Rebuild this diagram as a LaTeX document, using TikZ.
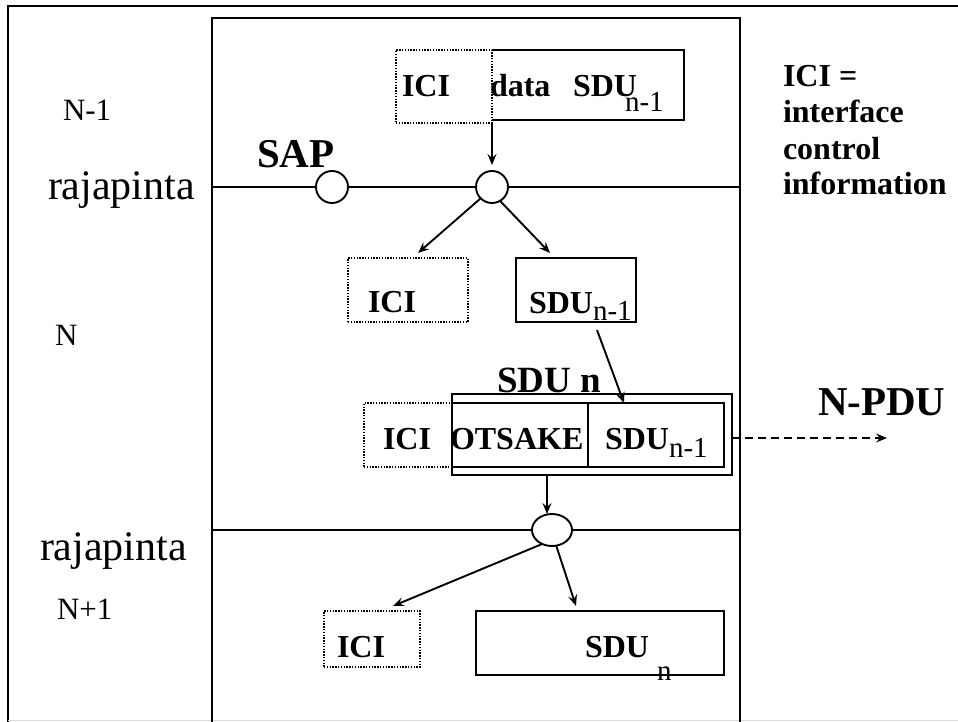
\documentclass[tikz,border=0pt]{standalone}
\usepackage{fontspec}
\setmainfont{Liberation Serif}
\usetikzlibrary{arrows.meta,shapes.geometric,calc}
\newcommand\fsraja{\fontsize{42pt}{48pt}\selectfont}
\newcommand\fsnum{\fontsize{31pt}{36pt}\selectfont}
\newcommand\fssap{\fontsize{41pt}{48pt}\selectfont\bfseries}
\newcommand\fsbox{\fontsize{32pt}{36pt}\selectfont\bfseries}
\newcommand\fssub{\fontsize{29pt}{34pt}\selectfont\mdseries}
\newcommand\fssdun{\fontsize{37pt}{44pt}\selectfont\bfseries}
\begin{document}
\begin{tikzpicture}[x=1pt,y=-1pt, line width=1.9pt,
  every node/.style={inner sep=0pt, outer sep=0pt},
  lbl/.style={anchor=base west},
  box/.style={draw, anchor=north west},
  dbox/.style={draw, anchor=north west, dash pattern=on 1.4pt off 1.4pt},
  arr/.style={-{Stealth[length=11pt,width=9pt,inset=4pt]}},
  sap/.style={draw, circle, minimum size=32pt},
]
\useasboundingbox (0,0) rectangle (958,722);
% outer frame
\draw (8,722) -- (8,6) -- (958,6);
\draw[black!15, line width=1pt] (8,720) -- (958,720);
% layer box
\draw (212,722) -- (212,18) -- (740,18) -- (740,722);

% interfaces
\coordinate (ifAw) at (212,187);
\coordinate (ifAe) at (740,187);
\node[sap] (c1) at (332,187) {};
\node[sap] (c2) at (492,187) {};
\draw (ifAw) -- (c1) -- (c2) -- (ifAe);
\coordinate (ifBw) at (212,530);
\coordinate (ifBe) at (740,530);
\node[draw, ellipse, minimum width=40pt, minimum height=32pt] (e) at (552,530) {};
\draw (ifBw) -- (e) -- (ifBe);

% top boxes
\node[anchor=north west, minimum width=192pt, minimum height=70pt] (data1) at (492,50) {};
\draw (data1.north west) -- (data1.north east) -- (data1.south east) -- (data1.south west);
\node[dbox, minimum width=96pt, minimum height=73pt] (ici1) at (396,50) {};
\node[lbl, font=\fsbox] (t-ici1) at (402,97) {ICI};
\node[lbl, font=\fsbox] (t-data1) at (490,97) {data};
\node[lbl, font=\fsbox] (t-sdu1) at (573,97) {SDU\kern-12pt\raisebox{-15pt}{\fssub n-1}};

% middle boxes
\node[dbox, minimum width=120pt, minimum height=64pt] (ici2) at (348,258) {};
\node[box, minimum width=120pt, minimum height=64pt] (sdu2) at (516,258) {};
\node[lbl, font=\fsbox] (t-ici2) at (368,312) {ICI};
\node[lbl, font=\fsbox] (t-sdu2) at (529,313) {SDU\raisebox{-7pt}{\fssub n-1}};

% PDU row
\node[dbox, minimum width=88pt, minimum height=64pt] (ici3) at (364,403) {};
\node[box, minimum width=280pt, minimum height=81pt] (pduout) at (452,394) {};
\node[box, minimum width=136pt, minimum height=64pt] (hdr) at (452,403) {};
\node[box, minimum width=136pt, minimum height=64pt] (sdu3) at (588,403) {};
\node[lbl, font=\fssdun] (t-sdun) at (497,392) {SDU n};
\node[lbl, font=\fsbox] (t-ici3) at (383,449) {ICI};
\node[lbl, font=\fsbox] (t-hdr) at (450,449) {OTSAKE};
\node[lbl, font=\fsbox] (t-sdu3) at (605,449) {SDU\raisebox{-8pt}{\fssub n-1}};

% bottom boxes
\node[dbox, minimum width=96pt, minimum height=56pt] (ici4) at (324,611) {};
\node[box, minimum width=248pt, minimum height=64pt] (sdu4) at (476,611) {};
\node[lbl, font=\fsbox] (t-ici4) at (337,657) {ICI};
\node[lbl, font=\fsbox] (t-sdu4) at (585,657) {SDU\kern8pt\raisebox{-23pt}{\fssub n}};

% arrows
\draw[arr, shorten >=6pt] (ici1.south east) -- (ici1.south east |- c2.north);
\draw[arr] (c2.225) -- ([xshift=10pt,yshift=5pt]ici2.north);
\draw[arr] (c2.300) -- ([xshift=-26pt,yshift=5pt]sdu2.north);
\draw[arr] ([xshift=21pt,yshift=-8pt]sdu2.south) -- ([xshift=-32pt]sdu3.north);
\coordinate (eup) at ($(e.north)+(-5,0)$);
\draw[arr] (eup |- pduout.south) -- (eup);
\draw[arr] (e.235) -- ([xshift=21pt,yshift=5pt]ici4.north);
\draw[arr] (e.285) -- ([xshift=-24pt,yshift=5pt]sdu4.north);
\coordinate (pduend) at (887,438);
\draw[arr, dash pattern=on 8pt off 5pt] ([yshift=-3.5pt]pduout.east) -- (pduend);

% labels
\node[lbl, font=\fsnum] (t-n1) at (63,121) {N-1};
\node[lbl, font=\fsraja] (t-raja1) at (48,200) {rajapinta};
\node[lbl, font=\fssap] (t-sap) at (257,168) {SAP};
\node[lbl, font=\fsnum] (t-n) at (55,345) {N};
\node[lbl, font=\fsraja] (t-raja2) at (40,560) {rajapinta};
\node[lbl, font=\fsnum] (t-n3) at (57,619) {N+1};
\node[lbl, font=\fssap] (t-npdu) at (818,415) {N-PDU};
\node[lbl, font=\fsbox] (t-def1) at (783,87) {ICI =};
\node[lbl, font=\fsbox] (t-def2) at (783,123) {interface};
\node[lbl, font=\fsbox] (t-def3) at (783,160) {control};
\node[lbl, font=\fsbox] (t-def4) at (783,195) {information};
\end{tikzpicture}
\end{document}
